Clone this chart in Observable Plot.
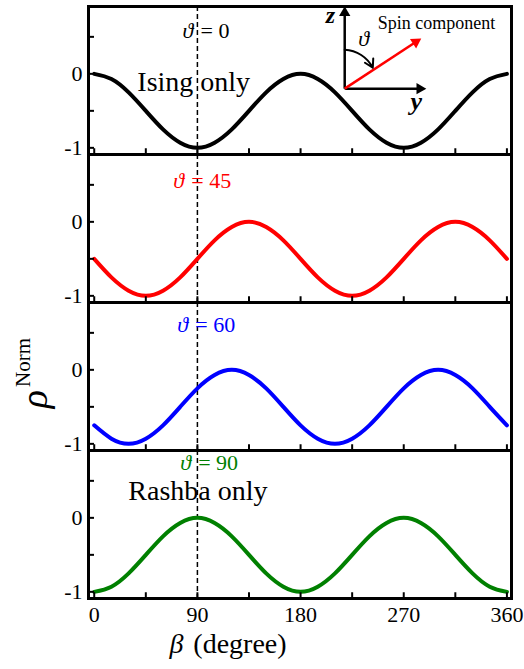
<!DOCTYPE html>
<html><head><meta charset="utf-8">
<script src="https://cdn.jsdelivr.net/npm/d3@7"></script>
<script src="https://cdn.jsdelivr.net/npm/@observablehq/plot@0.6"></script>
<style>
body{margin:0;background:#fff}
svg text, svg tspan { font-family: "Liberation Serif", "Times New Roman", "DejaVu Serif", serif !important; }
</style>
</head><body><div id="chart"></div>
<script>
// ---- data ----
const beta = [0,15,30,45,60,75,90,105,120,135,150,165,180,195,210,225,240,255,270,285,300,315,330,345,360];
const rhoTheta0  = [0,-0.07,-0.25,-0.5,-0.75,-0.93,-1,-0.93,-0.75,-0.5,-0.25,-0.07,0,-0.07,-0.25,-0.5,-0.75,-0.93,-1,-0.93,-0.75,-0.5,-0.25,-0.07,0];
const rhoTheta45 = [-0.5,-0.75,-0.93,-1,-0.93,-0.75,-0.5,-0.25,-0.07,0,-0.07,-0.25,-0.5,-0.75,-0.93,-1,-0.93,-0.75,-0.5,-0.25,-0.07,0,-0.07,-0.25,-0.5];
const rhoTheta60 = [-0.75,-0.93,-1,-0.93,-0.75,-0.5,-0.25,-0.07,0,-0.07,-0.25,-0.5,-0.75,-0.93,-1,-0.93,-0.75,-0.5,-0.25,-0.07,0,-0.07,-0.25,-0.5,-0.75];
const rhoTheta90 = [-1,-0.93,-0.75,-0.5,-0.25,-0.07,0,-0.07,-0.25,-0.5,-0.75,-0.93,-1,-0.93,-0.75,-0.5,-0.25,-0.07,0,-0.07,-0.25,-0.5,-0.75,-0.93,-1];
const thetas = [0,45,60,90];
const seriesColors = ["#000000","#ff0000","#0000ff","#008000"];
const regimeNames = ["Ising only","Rashba only"];
const xTickLabels = [0,90,180,270,360];
const xMinorTicks = [0,45,90,135,180,225,270,315,360];
const yTickLabels = [0,-1];
const yMinorTicks = [-1,-0.5,0,0.5];

// ---- layout ----
const W = 524, H = 669, mt = 5, mb = 71, ml = 88, mr = 13;
const facetH = (H - mt - mb) / 4;
const serif = "Liberation Serif, Times New Roman, DejaVu Serif, serif";

const series = [rhoTheta0, rhoTheta45, rhoTheta60, rhoTheta90];
const table = series.flatMap((vals, p) => vals.map((v, i) => ({panel: p, beta: beta[i], rho: v, color: seriesColors[p]})));

// annotation anchors (data coordinates of each panel)
const thetaAnchor = [[77, 0.58], [69, 0.555], [72.5, 0.6], [75, 0.74]];
const thetaAnn = thetas.map((t, p) => ({panel: p, theta: t, color: seriesColors[p], x: thetaAnchor[p][0], y: thetaAnchor[p][1]}));
const regimeAnn = [
  {panel: 0, text: regimeNames[0], x: 37.6, y: -0.107},
  {panel: 3, text: regimeNames[1], x: 29.7, y: 0.36}
];
// inset diagram (panel 0)
const O = [218.5, -0.2];
const insetLinks = [
  {panel: 0, x1: O[0], y1: O[1], x2: 218.5, y2: 0.826, c: "black"},
  {panel: 0, x1: O[0], y1: O[1], x2: 284, y2: O[1], c: "black"},
  {panel: 0, x1: O[0], y1: O[1], x2: 280.5, y2: 0.43, c: "#ff0000"}
];
const insetHeads = [
  {panel: 0, x: 218.5, y: 0.826, rot: 0, c: "black"},
  {panel: 0, x: 284, y: O[1], rot: 90, c: "black"},
  {panel: 0, x: 280.5, y: 0.43, rot: 57, c: "#ff0000"}
];

const plot = Plot.plot({
  width: W, height: H,
  marginTop: mt, marginBottom: mb, marginLeft: ml, marginRight: mr,
  style: {fontFamily: serif, background: "white", color: "black"},
  x: {domain: [-5, 364]},
  y: {domain: [-1.09, 0.91]},
  fy: {domain: [0, 1, 2, 3], padding: 0, axis: null},
  color: {type: "identity"},
  marks: [
    Plot.ruleX([90], {strokeDasharray: "5,3", strokeWidth: 1.5, stroke: "black"}),
    Plot.line(table, {x: "beta", y: "rho", fy: "panel", z: "panel", stroke: "color", strokeWidth: 4, curve: "natural"}),
    Plot.text(thetaAnn, {x: "x", y: "y", fy: "panel", text: () => "ϑ", fill: "color", fontStyle: "italic", fontSize: 22, textAnchor: "start"}),
    Plot.text(thetaAnn, {x: "x", y: "y", fy: "panel", text: d => "= " + d.theta, fill: "color", fontSize: 22, textAnchor: "start", dx: 18}),
    Plot.text(regimeAnn, {x: "x", y: "y", fy: "panel", text: "text", fontSize: 28, textAnchor: "start", fill: "black"}),
    // inset
    Plot.link(insetLinks, {x1: "x1", y1: "y1", x2: "x2", y2: "y2", fy: "panel", stroke: "c", strokeWidth: 2.5}),
    Plot.dot(insetHeads, {x: "x", y: "y", fy: "panel", symbol: "triangle", rotate: "rot", fill: "c", r: 4.2}),
    Plot.arrow([{panel: 0}], {x1: () => 218.5, y1: () => 0.326, x2: () => 243, y2: () => 0.082, fy: "panel", bend: 30, headLength: 7, strokeWidth: 2, stroke: "black"}),
    Plot.text([{panel: 0}], {x: () => 206, y: () => 0.785, fy: "panel", text: () => "z", fontSize: 24, fontWeight: "bold", fontStyle: "italic", fill: "black"}),
    Plot.text([{panel: 0}], {x: () => 281, y: () => -0.377, fy: "panel", text: () => "y", fontSize: 26, fontWeight: "bold", fontStyle: "italic", fill: "black"}),
    Plot.text([{panel: 0}], {x: () => 235, y: () => 0.474, fy: "panel", text: () => "ϑ", fontSize: 22, fontStyle: "italic", fill: "black"}),
    Plot.text([{panel: 0}], {x: () => 247.3, y: () => 0.69, fy: "panel", text: () => "Spin component", fontSize: 18, textAnchor: "start", fill: "black"}),
    // ticks (inward)
    Plot.tickY(yMinorTicks, {y: d => d, insetRight: W - ml - mr - 6, strokeWidth: 2, stroke: "black"}),
    Plot.tickX(xMinorTicks, {x: d => d, insetTop: facetH - 6, strokeWidth: 2, stroke: "black"}),
    Plot.frame({strokeWidth: 3, stroke: "black"}),
    Plot.axisY({ticks: yTickLabels, tickSize: 0, tickPadding: 6, tickFormat: d => d === 0 ? "0" : "-1", fontSize: 22, label: null}),
    Plot.axisX({ticks: xTickLabels, tickSize: 0, tickPadding: 8, tickFormat: d => String(d), fontSize: 22, label: null})
  ]
});

const svg = d3.select(plot);
// y axis title rho^Norm
const yt = svg.append("text")
  .attr("transform", "translate(47,373) rotate(-90)")
  .attr("fill", "black");
yt.append("tspan").attr("font-size", 38).attr("font-style", "italic").text("ρ");
yt.append("tspan").attr("font-size", 21).attr("dy", -17).attr("dx", 3).text("Norm");
// x axis title
const xt = svg.append("text")
  .attr("x", 228).attr("y", 653)
  .attr("font-size", 28).attr("fill", "black");
xt.append("tspan").attr("font-style", "italic").text("β");
xt.append("tspan").attr("dx", 10).text("(degree)");

document.getElementById("chart").appendChild(plot);
</script>
</body></html>
